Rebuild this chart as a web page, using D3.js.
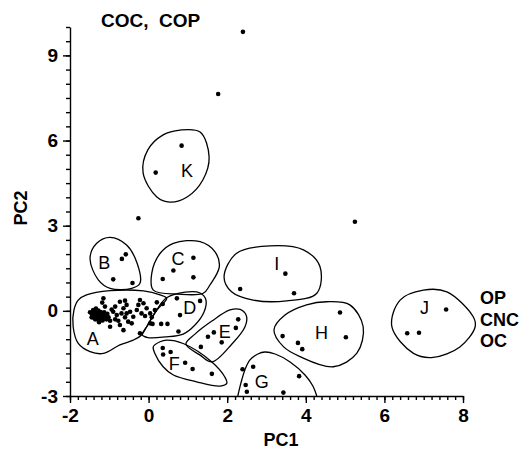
<!DOCTYPE html>
<html>
<head>
<meta charset="utf-8">
<script src="https://cdn.jsdelivr.net/npm/d3@7"></script>
<style>
  body { margin: 0; background: #fff; }
  svg { display: block; }
  text { font-family: "Liberation Sans", Arial, sans-serif; fill: #000; }
</style>
</head>
<body>
<svg id="chart" width="523" height="449"></svg>
<script>
// PC1 / PC2 scores
var pointsA = [[-1.15,0.44],[-1.18,0.29],[-1.11,0.15],[-1.41,0.03],[-1.45,-0.09],[-1.36,-0.03],[-1.32,-0.09],
  [-1.28,0.01],[-1.24,-0.09],[-1.41,-0.18],[-1.32,-0.21],[-1.24,-0.23],[-1.19,-0.15],[-1.15,-0.26],[-1.11,-0.18],
  [-1.07,-0.30],[-1.02,-0.23],[-0.98,-0.35],[-1.36,-0.30],[-1.28,-0.32],[-1.45,-0.23],[-1.39,-0.12],[-1.30,-0.14],
  [-1.22,-0.04],[-1.34,0.08],[-1.26,-0.40],[-1.17,-0.34],[-1.05,-0.10],[-1.43,-0.14],[-0.98,-0.56],[-0.94,0.05],
  [-0.85,0.15],[-0.90,-0.03],[-0.81,-0.15],[-0.85,-0.30],[-0.77,-0.35],[-0.73,-0.50],[-0.64,-0.68],[-0.73,0.32],
  [-0.60,0.36],[-0.56,0.21],[-0.64,0.09],[-0.69,-0.09],[-0.56,-0.09],[-0.47,-0.03],[-0.60,-0.23],[-0.52,-0.38],
  [-0.39,-0.21],[-0.43,-0.44],[-0.30,0.03],[-0.26,0.21],[-0.22,0.38],[-0.13,0.27],[-0.05,0.09],[-0.18,-0.09],
  [-0.09,-0.18],[0.04,-0.09],[0.08,-0.23],[0.16,0.03],[0.21,0.30],[0.36,0.24],[-0.22,-0.79],[0.04,-0.44],
  [-1.49,-0.05],[-1.38,-0.25],[-1.20,-0.30],[-1.13,-0.05]];
var pointsB = [[-0.68,1.83],[-0.58,1.99],[-0.90,1.11],[-0.41,0.98]];
var pointsC = [[1.14,1.87],[0.63,1.42],[0.36,1.12],[1.14,1.18]];
var pointsD = [[0.72,0.44],[1.31,0.35],[0.80,-0.15],[0.10,-0.46],[0.32,-0.46],[0.48,-0.46],[0.76,-0.73]];
var pointsE = [[2.28,-0.30],[2.22,-0.60],[1.66,-0.76],[1.51,-0.91],[1.86,-1.11],[1.33,-1.27]];
var pointsF = [[0.36,-1.31],[0.37,-1.54],[0.56,-1.45],[0.93,-1.83],[1.12,-2.05],[1.61,-2.22]];
var pointsG = [[2.39,-2.06],[2.66,-1.97],[2.47,-2.61],[2.50,-2.85],[3.43,-2.88],[3.83,-2.30]];
var pointsH = [[4.87,-0.06],[3.41,-0.89],[3.80,-1.13],[3.91,-1.35],[5.02,-0.93]];
var pointsI = [[3.48,1.31],[2.33,0.77],[3.70,0.62]];
var pointsJ = [[7.57,0.05],[6.58,-0.79],[6.88,-0.77]];
var pointsK = [[0.84,5.82],[0.18,4.87]];
var pointsOther = [[2.40,9.83],[1.77,7.64],[-0.26,3.26],[5.25,3.14]];

// hand-drawn cluster outlines (PC units)
var outlineA = [[-1.58,0.56],[-0.98,0.71],[-0.13,0.70],[0.29,0.56],[0.46,0.44],[0.21,0.03],[-0.05,-0.56],
  [-0.18,-0.85],[-0.39,-1.03],[-0.73,-1.20],[-1.15,-1.50],[-1.49,-1.44],[-1.79,-1.15],[-1.92,-0.56],[-1.90,0.03],[-1.79,0.38]];
var outlineB = [[-0.98,2.59],[-0.56,2.32],[-0.29,1.67],[-0.22,0.97],[-0.43,0.79],[-0.98,0.79],[-1.28,1.09],[-1.49,1.85],[-1.32,2.38]];
var outlineC = [[0.63,2.38],[1.31,2.44],[1.69,2.08],[1.80,1.56],[1.56,0.91],[1.39,0.62],[0.75,0.59],[0.12,0.73],[0.08,1.32],[0.29,2.02]];
var outlineD = [[0.46,0.46],[0.93,0.66],[1.31,0.63],[1.46,0.38],[1.41,-0.04],[1.18,-0.50],[0.88,-0.82],[0.42,-0.92],
  [-0.02,-0.94],[-0.16,-0.84],[-0.03,-0.52],[0.20,0.02]];
var outlineE = [[2.07,0.03],[2.33,0.05],[2.49,-0.18],[2.45,-0.57],[2.12,-1.17],[1.61,-1.80],[1.31,-1.56],[0.95,-1.17],[1.18,-0.82],[1.61,-0.36]];
var outlineF = [[0.29,-1.09],[0.46,-1.03],[0.88,-1.15],[1.61,-1.80],[1.94,-2.33],[1.99,-2.55],[1.82,-2.65],[1.22,-2.50],
  [0.63,-2.26],[0.37,-1.97],[0.16,-1.50],[0.12,-1.26]];
var outlineG = [[2.27,-3],[2.35,-2.54],[2.45,-2.08],[2.58,-1.73],[2.78,-1.52],[2.96,-1.45],[3.22,-1.52],[3.60,-1.80],
  [3.98,-2.26],[4.18,-2.65],[4.28,-3]];
var outlineH = [[4.53,0.32],[5.12,0.21],[5.46,-0.56],[5.30,-1.49],[4.70,-1.97],[3.85,-1.61],[3.43,-1.26],[3.19,-0.67],[3.47,-0.15],[4.02,0.21]];
var outlineI = [[1.92,1.20],[2.24,2.03],[3.09,2.29],[3.94,2.15],[4.36,1.56],[4.28,0.62],[3.51,0.35],[2.66,0.38],[2.11,0.67]];
var outlineJ = [[6.99,0.73],[7.59,0.67],[8.26,-0.21],[8.31,-0.56],[7.92,-1.27],[7.24,-1.64],[6.74,-1.50],[6.19,-0.56],[6.40,0.38]];
var outlineK = [[0.37,6.20],[0.80,6.37],[1.31,6.30],[1.54,5.42],[1.38,4.61],[0.98,4.01],[0.54,3.83],[0.21,4.01],[-0.14,4.86],[-0.02,5.67]];

var clusterNames = ["A","B","C","D","E","F","G","H","I","J","K"];
var clusterLabelPos = [[-1.42,-0.97],[-1.13,1.69],[0.75,1.83],[1.05,0.10],[1.94,-0.74],[0.65,-1.87],
  [2.88,-2.50],[4.40,-0.77],[3.26,1.67],[7.02,0.13],[0.98,4.96]];

var xMajor = [-2, 0, 2, 4, 6, 8];
var yMajor = [-3, 0, 3, 6, 9];
var topNote = "COC,  COP";
var sideNote = ["OP", "CNC", "OC"];

var svg = d3.select("#chart");

var x = d3.scaleLinear().domain([-2, 8]).range([70, 463]),
    y = d3.scaleLinear().domain([-3, 10]).range([396, 27]);

// minor ticks
svg.append("g")
    .attr("transform", "translate(0," + y(-3) + ")")
    .call(d3.axisBottom(x).tickValues(d3.range(-2, 8.01, 0.2)).tickSize(4).tickFormat(""))
    .call(g => g.select(".domain").remove());
svg.append("g")
    .attr("transform", "translate(" + x(-2) + ",0)")
    .call(d3.axisLeft(y).tickValues(d3.range(-3, 10.01, 0.5)).tickSize(4).tickFormat(""))
    .call(g => g.select(".domain").remove());

// major ticks + labels
svg.append("g")
    .attr("transform", "translate(0," + y(-3) + ")")
    .call(d3.axisBottom(x).tickValues(xMajor).tickSize(7).tickSizeOuter(0).tickPadding(6).tickFormat(d => String(d)));
svg.append("g")
    .attr("transform", "translate(" + x(-2) + ",0)")
    .call(d3.axisLeft(y).tickValues(yMajor).tickSize(7).tickSizeOuter(0).tickPadding(5).tickFormat(d => String(d)));

svg.selectAll(".tick line, .domain").attr("stroke", "#000").attr("stroke-width", 1.4);
svg.selectAll(".tick text")
    .attr("font-family", "Liberation Sans, Arial, sans-serif")
    .attr("font-size", 19).attr("font-weight", "bold").attr("fill", "#000");

svg.append("text")
    .attr("x", 281).attr("y", 446)
    .attr("text-anchor", "middle")
    .attr("font-size", 18).attr("font-weight", "bold")
    .text("PC1");
svg.append("text")
    .attr("transform", "translate(27,208) rotate(-90)")
    .attr("text-anchor", "middle")
    .attr("font-size", 18).attr("font-weight", "bold")
    .text("PC2");

// outlines
var closedLine = d3.line().x(d => x(d[0])).y(d => y(d[1])).curve(d3.curveCatmullRomClosed.alpha(0.5)),
    openLine = d3.line().x(d => x(d[0])).y(d => y(d[1])).curve(d3.curveCatmullRom.alpha(0.5));

var outlines = [outlineA, outlineB, outlineC, outlineD, outlineE, outlineF, outlineH, outlineI, outlineJ, outlineK];
svg.append("g").selectAll("path")
    .data(outlines)
    .enter().append("path")
    .attr("d", d => closedLine(d))
    .attr("fill", "none").attr("stroke", "#000").attr("stroke-width", 1.3);
svg.append("path")
    .attr("d", openLine(outlineG))
    .attr("fill", "none").attr("stroke", "#000").attr("stroke-width", 1.3);

// points
var allPoints = d3.merge([pointsA, pointsB, pointsC, pointsD, pointsE, pointsF, pointsG,
  pointsH, pointsI, pointsJ, pointsK, pointsOther]);
svg.append("g").selectAll("circle")
    .data(allPoints)
    .enter().append("circle")
    .attr("cx", d => x(d[0]))
    .attr("cy", d => y(d[1]))
    .attr("r", 2.3)
    .attr("fill", "#000");

// cluster letters
svg.append("g").selectAll("text")
    .data(clusterNames)
    .enter().append("text")
    .attr("x", (d, i) => x(clusterLabelPos[i][0]))
    .attr("y", (d, i) => y(clusterLabelPos[i][1]))
    .attr("dy", "0.36em")
    .attr("text-anchor", "middle")
    .attr("font-size", 18)
    .text(d => d);

svg.append("text")
    .attr("x", 101).attr("y", 27)
    .attr("font-size", 19).attr("font-weight", "bold")
    .attr("xml:space", "preserve")
    .style("white-space", "pre")
    .text(topNote);

svg.append("g").selectAll("text")
    .data(sideNote)
    .enter().append("text")
    .attr("x", 480)
    .attr("y", (d, i) => 298 + i * 21.5)
    .attr("dy", "0.36em")
    .attr("font-size", 18).attr("font-weight", "bold")
    .text(d => d);
</script>
</body>
</html>
